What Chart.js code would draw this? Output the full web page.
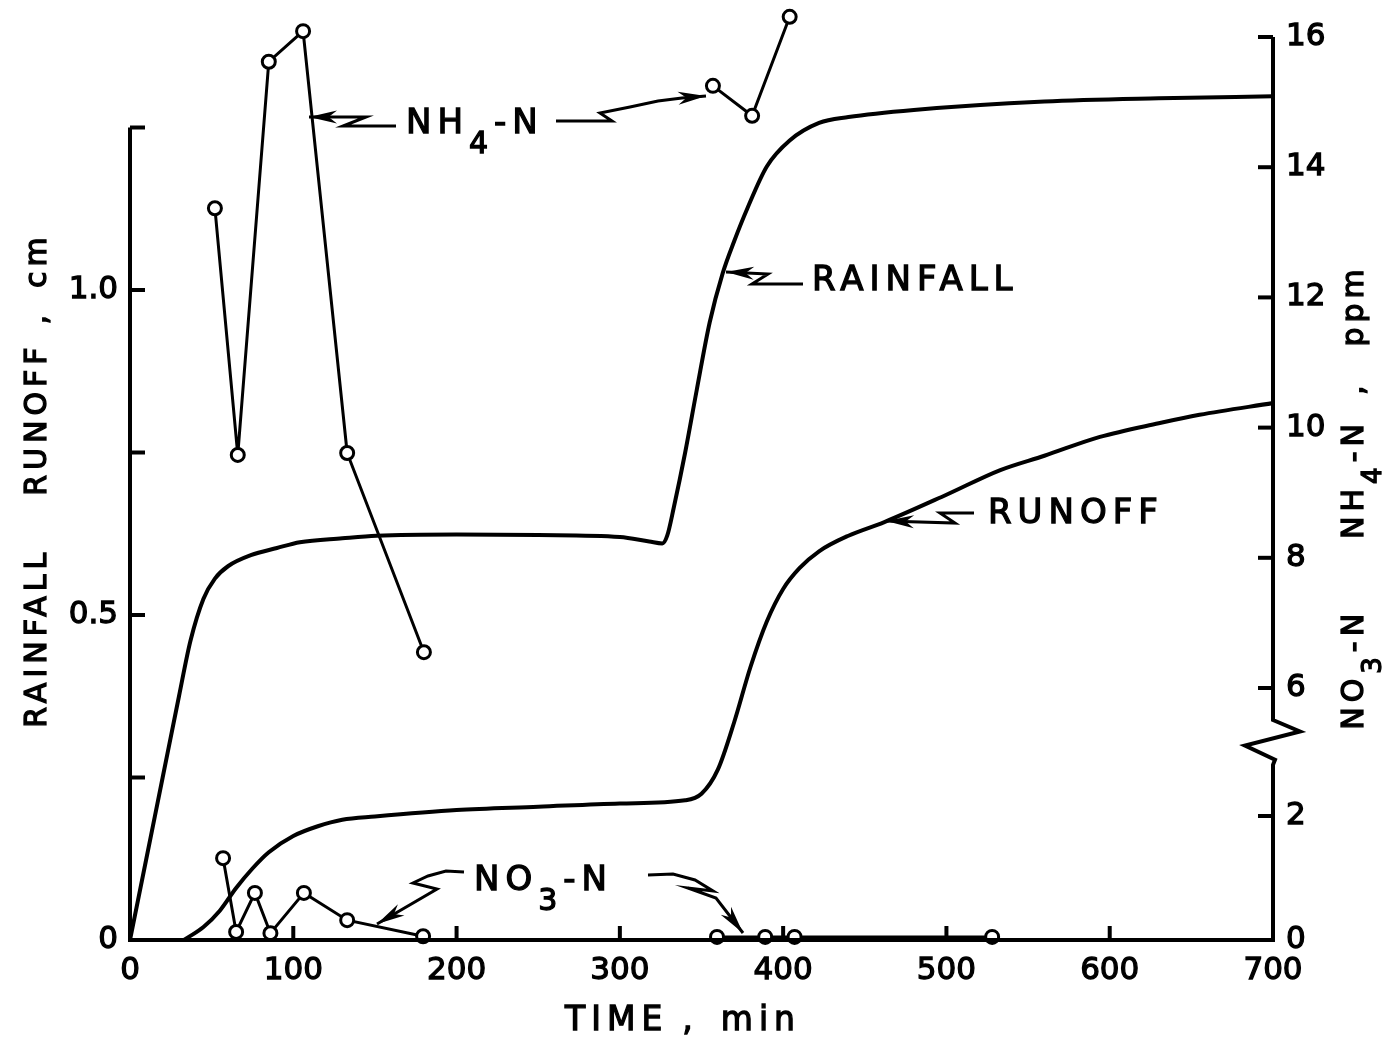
<!DOCTYPE html>
<html>
<head>
<meta charset="utf-8">
<title>Rainfall, runoff, NH4-N and NO3-N</title>
<script src="https://cdn.jsdelivr.net/npm/chart.js@4.4.1/dist/chart.umd.min.js"></script>
<style>
  html, body { margin: 0; padding: 0; background: #fff; }
  #wrap { width: 1392px; height: 1038px; }
</style>
</head>
<body>
<div id="wrap"><canvas id="chart" width="1392" height="1038"></canvas></div>
<script>
// Ejes
const timeTicks = [0, 100, 200, 300, 400, 500, 600, 700];          // min
const depthTicks = [0, 0.25, 0.5, 0.75, 1.0, 1.25];                // cm
const depthLabels = ['0', '', '0.5', '', '1.0', ''];
const no3Ticks = [0, 2];                                           // ppm, below the break
const nh4Ticks = [6, 8, 10, 12, 14, 16];                           // ppm, above the break

// Rainfall (cumulative, cm)
const rainTime = [0, 10, 20, 30, 37, 45, 52, 60, 74, 90, 104, 130, 151, 200, 250, 300, 318, 326,
  329, 333, 340, 347, 355, 363, 370, 378, 390, 404, 422, 440, 480, 560, 630, 700];
const rainCm = [0, 0.125, 0.25, 0.375, 0.46, 0.525, 0.556, 0.575, 0.592, 0.603, 0.612, 0.618, 0.622,
  0.624, 0.623, 0.62, 0.613, 0.61, 0.622, 0.665, 0.75, 0.845, 0.95, 1.026, 1.075, 1.125, 1.19,
  1.23, 1.257, 1.266, 1.277, 1.29, 1.295, 1.298];

// Runoff (cumulative, cm)
const runoffTime = [33, 45, 55, 65, 75, 85, 100, 115, 130, 150, 200, 250, 300, 340, 350, 360, 370,
  380, 390, 400, 410, 422, 440, 462, 500, 533, 560, 594, 630, 655, 700];
const runoffCm = [0, 0.02, 0.045, 0.08, 0.11, 0.135, 0.16, 0.175, 0.185, 0.19, 0.2, 0.205, 0.21,
  0.215, 0.225, 0.262, 0.335, 0.42, 0.49, 0.54, 0.572, 0.598, 0.622, 0.643, 0.685, 0.723, 0.745,
  0.774, 0.795, 0.808, 0.826];

// NH4-N in runoff (ppm)
const nh4Time = [52, 66, 85, 106, 133, 180, 357, 381, 404];
const nh4Ppm = [13.37, 9.58, 15.62, 16.09, 9.61, 6.55, 15.25, 14.79, 16.31];

// NO3-N in runoff (ppm)
const no3Time = [57, 65, 76.5, 86, 106.5, 133, 179.5, 359.5, 389, 407, 528];
const no3Ppm = [1.32, 0.13, 0.76, 0.11, 0.76, 0.32, 0.06, 0.05, 0.05, 0.05, 0.05];

// escalas del eje derecho (roto)
const NH4_MIN = 2.129, NH4_MAX = 16.415;
const NO3_MAX = 15.0;

const FONT = '"DejaVu Sans", "Liberation Sans", sans-serif';

function pairs(xs, ys) {
    return xs.map((t, i) => ({ x: t, y: ys[i] }));
}

// no unir muestras de tormentas distintas
const splitStorms = {
    borderColor: c => (c.p1.parsed.x - c.p0.parsed.x > 150 ? 'rgba(0,0,0,0)' : '#000')
};

function polyline(ctx, pts) {
    ctx.beginPath();
    pts.forEach(([px, py], i) => (i ? ctx.lineTo(px, py) : ctx.moveTo(px, py)));
    ctx.stroke();
}

// flecha con quiebro en Z
function leader(ctx, pts) {
    ctx.lineWidth = 3;
    polyline(ctx, pts);
    const [x1, y1] = pts[pts.length - 2];
    const [x2, y2] = pts[pts.length - 1];
    const a = Math.atan2(y2 - y1, x2 - x1);
    const L = 28, W = 6.5;
    const c = Math.cos(a), s = Math.sin(a);
    ctx.beginPath();
    ctx.moveTo(x2, y2);
    ctx.lineTo(x2 - L * c + W * s, y2 - L * s - W * c);
    ctx.lineTo(x2 - L * 0.7 * c, y2 - L * 0.7 * s);
    ctx.lineTo(x2 - L * c - W * s, y2 - L * s + W * c);
    ctx.closePath();
    ctx.fill();
}

// texto con subindices: parts = [[texto, 'sub'|'gap'|undefined], ...]
function richWidth(ctx, parts, size) {
    let w = 0;
    parts.forEach(([t, kind]) => {
        if (kind === 'gap') { w += t; return; }
        ctx.font = `${kind === 'sub' ? Math.round(size * 0.88) : size}px ${FONT}`;
        w += ctx.measureText(t).width;
    });
    return w;
}
function richText(ctx, parts, x, y, size) {
    let cx = x;
    ctx.lineWidth = 1.3;
    parts.forEach(([t, kind]) => {
        if (kind === 'gap') { cx += t; return; }
        const sub = kind === 'sub';
        ctx.font = `${sub ? Math.round(size * 0.88) : size}px ${FONT}`;
        const ty = sub ? y + size * 0.6 : y;
        ctx.fillText(t, cx, ty);
        ctx.strokeText(t, cx, ty);
        cx += ctx.measureText(t).width;
    });
}

const decor = {
    id: 'decor',
    afterDraw(chart) {
        const { ctx, chartArea: a, scales } = chart;
        const xs = scales.x, yl = scales.y, yr = scales.yNH4;
        ctx.save();
        ctx.strokeStyle = '#000';
        ctx.fillStyle = '#000';
        ctx.lineJoin = 'miter';
        ctx.lineWidth = 4;

        // eje izquierdo (0 - 1.25 cm) con marcas hacia dentro
        polyline(ctx, [[a.left, a.bottom + 2], [a.left, yl.getPixelForValue(depthTicks[depthTicks.length - 1])]]);
        depthTicks.forEach(v => {
            const p = yl.getPixelForValue(v);
            polyline(ctx, [[a.left, p], [a.left + 15, p]]);
        });

        // eje inferior
        polyline(ctx, [[a.left - 2, a.bottom], [a.right + 2, a.bottom]]);
        timeTicks.slice(1, -1).forEach(t => {
            const p = xs.getPixelForValue(t);
            polyline(ctx, [[p, a.bottom], [p, a.bottom - 14]]);
        });

        // eje derecho con rotura
        const R = a.right;
        const p6 = yr.getPixelForValue(nh4Ticks[0]);
        const p2 = yr.getPixelForValue(NH4_MIN + no3Ticks[1] * (NH4_MAX - NH4_MIN) / NO3_MAX);
        const d = p2 - p6;
        polyline(ctx, [
            [R, yr.getPixelForValue(nh4Ticks[nh4Ticks.length - 1])],
            [R, p6 + 0.25 * d],
            [R + 27, p6 + 0.34 * d],
            [R - 28, p6 + 0.45 * d],
            [R + 2, p6 + 0.56 * d],
            [R, p6 + 0.6 * d],
            [R, a.bottom + 2]
        ]);
        yr.ticks.forEach(tk => {
            const p = yr.getPixelForValue(tk.value);
            polyline(ctx, [[R, p], [R - 15, p]]);
        });

        // flechas
        leader(ctx, [[396, 126], [343, 126], [366, 117], [309, 117]]);
        leader(ctx, [[556, 121], [612, 121], [600, 113], [630, 107], [658, 101], [682, 98], [706, 96]]);
        leader(ctx, [[803, 284], [752, 284], [768, 274], [726, 272]]);
        leader(ctx, [[974, 513], [940, 513], [955, 523], [886, 521]]);
        leader(ctx, [[464, 872], [446, 871], [428, 876], [413, 883], [437, 889], [377, 924]]);
        leader(ctx, [[648, 875], [673, 874], [695, 880], [713, 891], [688, 888], [716, 898], [743, 933]]);

        // rotulos dentro del grafico
        ctx.letterSpacing = '6px';
        ctx.textBaseline = 'alphabetic';
        ctx.textAlign = 'left';
        richText(ctx, [['NH'], ['4', 'sub'], ['-N']], 406, 133, 34);
        richText(ctx, [['RAINFALL']], 812, 290, 34);
        richText(ctx, [['RUNOFF']], 988, 523, 34);
        richText(ctx, [['NO'], ['3', 'sub'], ['-N']], 474, 890, 34);

        // titulo eje x
        const xt = [['TIME'], [14, 'gap'], [','], [22, 'gap'], ['min']];
        richText(ctx, xt, 683 - richWidth(ctx, xt, 33) / 2, 1030, 33);

        // titulo eje izquierdo
        ctx.letterSpacing = '5px';
        const lt = [['RAINFALL'], [52, 'gap'], ['RUNOFF'], [18, 'gap'], [','], [22, 'gap'], ['cm']];
        ctx.save();
        ctx.translate(46, 480);
        ctx.rotate(-Math.PI / 2);
        richText(ctx, lt, -richWidth(ctx, lt, 30) / 2, 0, 30);
        ctx.restore();

        // titulo eje derecho
        const rt = [['NO'], ['3', 'sub'], ['-N'], [70, 'gap'], ['NH'], ['4', 'sub'], ['-N'], [24, 'gap'], [','], [34, 'gap'], ['ppm']];
        ctx.save();
        ctx.translate(1363, 497);
        ctx.rotate(-Math.PI / 2);
        richText(ctx, rt, -richWidth(ctx, rt, 30) / 2, 0, 30);
        ctx.restore();

        ctx.restore();
    }
};

const tickFont = { family: FONT, size: 31 };
const tickStroke = { textStrokeColor: '#000', textStrokeWidth: 1.3 };

// tamaños fijos de los ejes para que el area del grafico no se mueva
function fixSize(w, h) {
    return s => {
        if (w !== null) s.width = w;
        if (h !== null) s.height = h;
        s.paddingTop = 0; s.paddingBottom = 0;
        s.paddingLeft = 0; s.paddingRight = 0;
    };
}

Chart.defaults.color = '#000';

new Chart(document.getElementById('chart'), {
    type: 'line',
    data: {
        datasets: [
            {
                label: 'NH4-N',
                data: pairs(nh4Time, nh4Ppm),
                yAxisID: 'yNH4',
                order: 0,
                borderColor: '#000',
                borderWidth: 3,
                segment: splitStorms,
                pointRadius: 6.5,
                pointBorderWidth: 3,
                pointBackgroundColor: '#fff',
                pointBorderColor: '#000',
                tension: 0,
                clip: false
            },
            {
                label: 'NO3-N',
                data: pairs(no3Time, no3Ppm),
                yAxisID: 'yNO3',
                order: 1,
                borderColor: '#000',
                borderWidth: 3,
                segment: splitStorms,
                pointRadius: 6.5,
                pointBorderWidth: 3,
                pointBackgroundColor: '#fff',
                pointBorderColor: '#000',
                tension: 0,
                clip: false
            },
            {
                label: 'RAINFALL',
                data: pairs(rainTime, rainCm),
                yAxisID: 'y',
                order: 2,
                borderColor: '#000',
                borderWidth: 4,
                pointRadius: 0,
                cubicInterpolationMode: 'monotone',
                fill: false
            },
            {
                label: 'RUNOFF',
                data: pairs(runoffTime, runoffCm),
                yAxisID: 'y',
                order: 3,
                borderColor: '#000',
                borderWidth: 4,
                pointRadius: 0,
                cubicInterpolationMode: 'monotone',
                fill: false
            }
        ]
    },
    options: {
        responsive: false,
        animation: false,
        layout: { padding: { top: 10, left: 0, right: 0, bottom: 0 } },
        plugins: { legend: { display: false }, tooltip: { enabled: false } },
        scales: {
            x: {
                type: 'linear',
                min: 0,
                max: 700,
                grid: { display: false, drawTicks: false },
                border: { display: false },
                afterBuildTicks: s => { s.ticks = timeTicks.map(v => ({ value: v })); },
                afterFit: fixSize(null, 98),
                ticks: { font: tickFont, ...tickStroke, padding: 12, autoSkip: false, maxRotation: 0 }
            },
            y: {
                position: 'left',
                min: 0,
                max: 930 / 650,
                grid: { display: false, drawTicks: false },
                border: { display: false },
                afterBuildTicks: s => { s.ticks = depthTicks.map(v => ({ value: v })); },
                afterFit: fixSize(130, null),
                ticks: {
                    font: tickFont,
                    ...tickStroke,
                    padding: 12,
                    autoSkip: false,
                    callback: (v, i) => depthLabels[i]
                }
            },
            yNO3: {
                display: false,
                min: 0,
                max: NO3_MAX
            },
            yNH4: {
                position: 'right',
                min: NH4_MIN,
                max: NH4_MAX,
                grid: { display: false, drawTicks: false },
                border: { display: false },
                afterBuildTicks: s => {
                    const k = (NH4_MAX - NH4_MIN) / NO3_MAX;
                    s.ticks = no3Ticks.map(p => ({ value: NH4_MIN + p * k, txt: String(p) }))
                        .concat(nh4Ticks.map(v => ({ value: v, txt: String(v) })));
                },
                afterFit: fixSize(119, null),
                ticks: {
                    font: tickFont,
                    ...tickStroke,
                    padding: 13,
                    autoSkip: false,
                    callback: (v, i, ticks) => ticks[i].txt
                }
            }
        }
    },
    plugins: [decor]
});
</script>
</body>
</html>
